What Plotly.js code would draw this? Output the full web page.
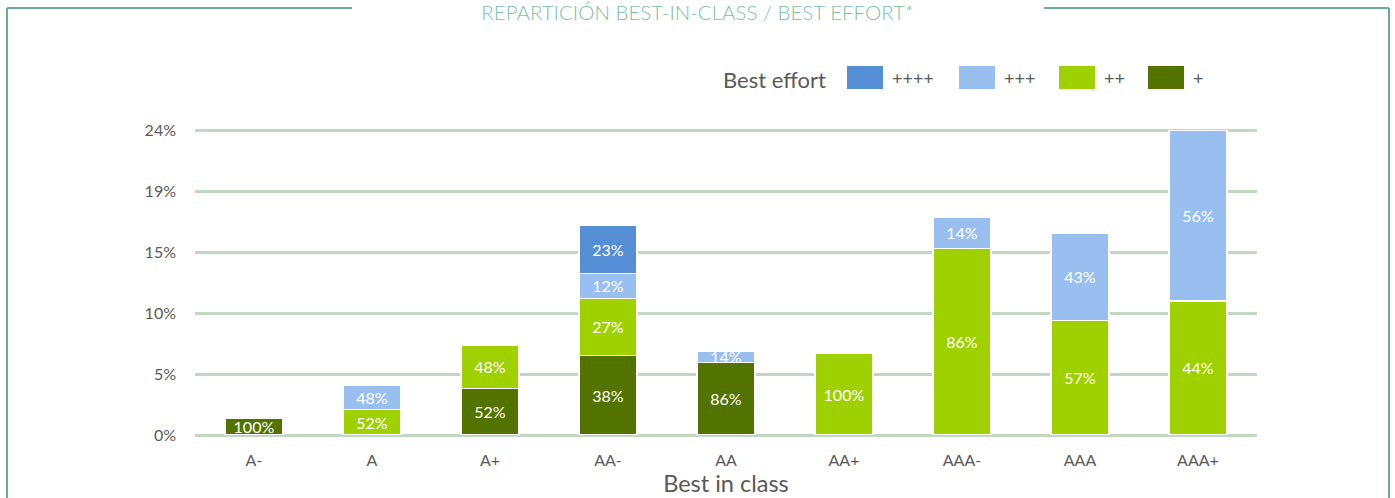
<!DOCTYPE html>
<html>
<head>
<meta charset="utf-8">
<script src="https://cdn.plot.ly/plotly-3.0.1.min.js"></script>
<style>
  html, body { margin: 0; padding: 0; background: #fff; }
  #chart { width: 1395px; height: 498px; }
</style>
</head>
<body>
<div id="chart"></div>
<script>
//// Values
// Categories (Best in class)
var classes = ["A-", "A", "A+", "AA-", "AA", "AA+", "AAA-", "AAA", "AAA+"];
// Total weight of each category (in %)
var totals = [1.30, 3.94, 7.16, 16.70, 6.68, 6.48, 17.29, 16.02, 24.25];
// Share of each best effort level inside a category (in %)
var sharePlus1 = [100, 0, 52, 38, 86, 0, 0, 0, 0];   // +
var sharePlus2 = [0, 52, 48, 27, 0, 100, 86, 57, 44]; // ++
var sharePlus3 = [0, 48, 0, 12, 14, 0, 14, 43, 56];   // +++
var sharePlus4 = [0, 0, 0, 23, 0, 0, 0, 0, 0];       // ++++
// Series names and colours
var levels = ["+", "++", "+++", "++++"];
var colors = ["#537300", "#9fd000", "#98bfef", "#558ed5"];
// Y axis ticks
var yTickVals = [0, 4.85, 9.7, 14.55, 19.4, 24.25];
var yTickText = ["0%", "5%", "10%", "15%", "19%", "24%"];

var shares = [sharePlus1, sharePlus2, sharePlus3, sharePlus4];

// Plot area in pixels (used to place frame and legend)
var yMax = 24.35;
var plotL = 195, plotR = 1257, plotB = 435;
var plotT = Math.round(plotB - 305 * yMax / 24.25);
function px(x) { return (x - plotL) / (plotR - plotL); }
function py(y) { return (plotB - y) / (plotB - plotT); }

// Creating the traces
var data = [];
for (var s = 0; s < levels.length; s++) {
    var yv = [];
    var txt = [];
    for (var i = 0; i < classes.length; i++) {
        yv.push(totals[i] * shares[s][i] / 100);
        txt.push(shares[s][i] > 0 ? shares[s][i] + "%" : "");
    }
    data.push({
        x: classes,
        y: yv,
        type: 'bar',
        name: levels[s],
        text: txt,
        textposition: 'inside',
        insidetextanchor: 'middle',
        constraintext: 'none',
        textangle: 0,
        textfont: { color: '#ffffff', size: 16, family: 'Lato, sans-serif' },
        hoverinfo: 'x+y+name',
        marker: { color: colors[s], line: { color: '#ffffff', width: 1.2 } }
    });
}

var frameColor = '#6aae92';
var shapes = [
    // frame round the chart, open at the title
    { type: 'line', xref: 'paper', yref: 'paper', x0: px(7), x1: px(352), y0: py(8), y1: py(8), line: { color: frameColor, width: 2 } },
    { type: 'line', xref: 'paper', yref: 'paper', x0: px(1044), x1: px(1389), y0: py(8), y1: py(8), line: { color: frameColor, width: 2 } },
    { type: 'line', xref: 'paper', yref: 'paper', x0: px(7), x1: px(7), y0: py(8), y1: py(520), line: { color: frameColor, width: 2 } },
    { type: 'line', xref: 'paper', yref: 'paper', x0: px(1389), x1: px(1389), y0: py(8), y1: py(520), line: { color: frameColor, width: 2 } }
];

var annotations = [
    {
        xref: 'paper', yref: 'paper', x: px(828), y: py(80), xanchor: 'right', yanchor: 'middle',
        text: 'Best effort', showarrow: false,
        font: { family: 'Lato, sans-serif', size: 22, color: '#595959' }
    }
];

// Legend drawn by hand, biggest level first
var swatchX = [847, 959, 1059, 1148];
for (var k = 0; k < levels.length; k++) {
    var s2 = levels.length - 1 - k;
    shapes.push({
        type: 'rect', xref: 'paper', yref: 'paper',
        x0: px(swatchX[k]), x1: px(swatchX[k] + 36), y0: py(89), y1: py(66),
        fillcolor: colors[s2], line: { width: 0 }
    });
    annotations.push({
        xref: 'paper', yref: 'paper', x: px(swatchX[k] + 43), y: py(78), xanchor: 'left', yanchor: 'middle',
        text: levels[s2], showarrow: false,
        font: { family: 'Lato, sans-serif', size: 18, color: '#595959' }
    });
}

var layout = {
    width: 1395,
    height: 498,
    margin: { l: plotL, r: 1395 - plotR, t: plotT, b: 498 - plotB },
    paper_bgcolor: '#ffffff',
    plot_bgcolor: '#ffffff',
    font: { family: 'Lato, sans-serif', color: '#595959' },
    barmode: 'stack',
    bargap: 0.508,
    showlegend: false,
    title: {
        text: 'REPARTICIÓN BEST-IN-CLASS / BEST EFFORT*',
        font: { family: 'Lato, sans-serif', size: 20.5, color: '#7cc0a4', weight: 300 },
        x: 0.5, xref: 'container', y: 1 - 13 / 498, yanchor: 'middle', xanchor: 'center'
    },
    xaxis: {
        type: 'category',
        showgrid: false,
        showline: false,
        zeroline: false,
        ticks: '',
        ticklabelstandoff: 14,
        tickfont: { size: 16, color: '#595959' },
        title: { text: 'Best in class', font: { size: 23.5, color: '#595959' }, standoff: 5 }
    },
    yaxis: {
        range: [0, yMax],
        tickvals: yTickVals,
        ticktext: yTickText,
        showgrid: true,
        gridcolor: '#bfd8bf',
        gridwidth: 2.5,
        zeroline: true,
        zerolinecolor: '#bfd8bf',
        zerolinewidth: 2.5,
        showline: false,
        ticks: '',
        ticklabelstandoff: 18,
        tickfont: { size: 16, color: '#595959' }
    },
    shapes: shapes,
    annotations: annotations
};

Plotly.newPlot('chart', data, layout, { displayModeBar: false });
</script>
</body>
</html>
